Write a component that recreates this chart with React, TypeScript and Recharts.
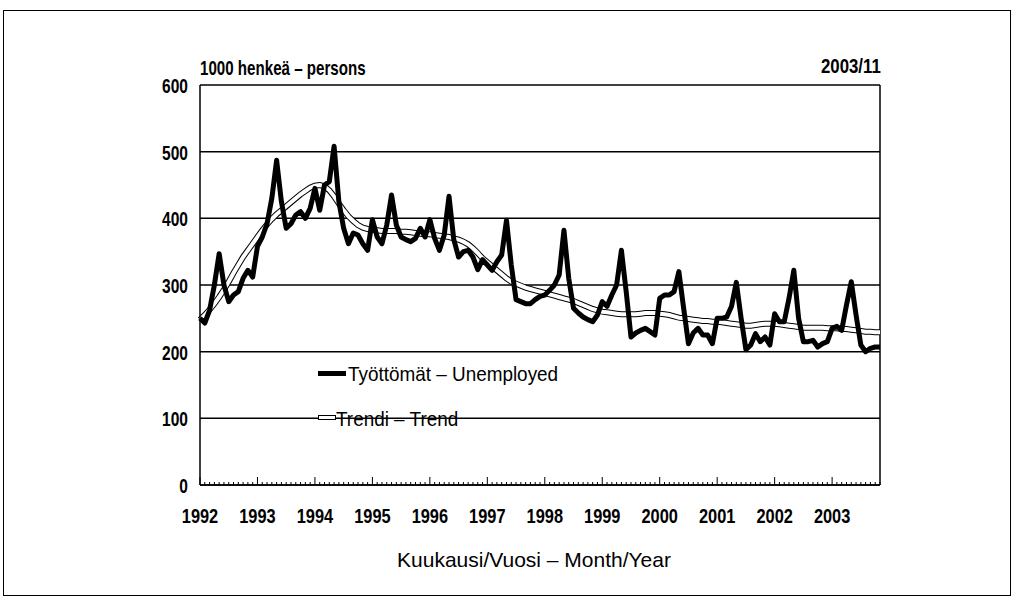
import { CartesianGrid, Line, LineChart, ReferenceLine, XAxis, YAxis } from 'recharts';

const FONT = "'Liberation Sans', Arial, Helvetica, sans-serif";

const YEARS = [1992, 1993, 1994, 1995, 1996, 1997, 1998, 1999, 2000, 2001, 2002, 2003];
const Y_TICKS = [0, 100, 200, 300, 400, 500, 600];

// Työttömät – Unemployed, 1000 persons, monthly
const unemployed1992 = [250, 243, 262, 300, 347, 300, 275, 285, 290, 310, 322, 312];
const unemployed1993 = [358, 372, 392, 430, 487, 425, 385, 392, 405, 410, 400, 415];
const unemployed1994 = [445, 412, 450, 455, 508, 425, 385, 362, 378, 375, 362, 352];
const unemployed1995 = [398, 372, 362, 390, 435, 390, 372, 368, 365, 370, 385, 372];
const unemployed1996 = [398, 370, 352, 375, 433, 368, 342, 350, 352, 342, 323, 338];
const unemployed1997 = [330, 322, 335, 345, 397, 330, 278, 275, 272, 272, 278, 283];
const unemployed1998 = [285, 292, 300, 315, 382, 310, 265, 258, 252, 248, 245, 255];
const unemployed1999 = [275, 268, 285, 300, 352, 290, 222, 228, 232, 235, 230, 225];
const unemployed2000 = [280, 285, 285, 290, 320, 265, 212, 228, 235, 225, 225, 212];
const unemployed2001 = [250, 250, 252, 268, 304, 250, 203, 210, 227, 215, 222, 210];
const unemployed2002 = [257, 245, 245, 280, 322, 250, 215, 215, 217, 207, 212, 215];
const unemployed2003 = [235, 238, 232, 270, 305, 255, 210, 200, 205, 207, 207];

// Trendi – Trend
const trend1992 = [248, 255, 263, 272, 282, 293, 305, 318, 330, 342, 352, 362];
const trend1993 = [372, 382, 391, 399, 406, 412, 418, 424, 430, 436, 441, 446];
const trend1994 = [449, 450, 448, 442, 433, 422, 412, 403, 396, 390, 386, 384];
const trend1995 = [383, 382, 381, 381, 381, 381, 380, 380, 379, 378, 377, 376];
const trend1996 = [376, 375, 374, 373, 372, 370, 368, 365, 361, 355, 348, 340];
const trend1997 = [334, 328, 322, 316, 310, 305, 302, 299, 296, 294, 292, 290];
const trend1998 = [288, 286, 284, 282, 280, 278, 276, 273, 270, 267, 264, 262];
const trend1999 = [260, 259, 258, 257, 256, 256, 256, 256, 257, 258, 258, 258];
const trend2000 = [257, 256, 255, 253, 251, 250, 249, 248, 247, 246, 246, 245];
const trend2001 = [245, 244, 243, 242, 241, 240, 239, 239, 240, 241, 242, 242];
const trend2002 = [242, 241, 240, 239, 238, 237, 236, 236, 236, 236, 236, 235];
const trend2003 = [235, 235, 234, 234, 233, 232, 231, 230, 230, 229, 229];

const unemployed = [
  unemployed1992, unemployed1993, unemployed1994, unemployed1995, unemployed1996, unemployed1997,
  unemployed1998, unemployed1999, unemployed2000, unemployed2001, unemployed2002, unemployed2003,
].flat();
const trend = [
  trend1992, trend1993, trend1994, trend1995, trend1996, trend1997,
  trend1998, trend1999, trend2000, trend2001, trend2002, trend2003,
].flat();

const chartData = unemployed.map((value, i) => ({
  month: i,
  unemployed: value,
  trend: trend[i],
  trendInner: trend[i],
}));
const monthTicks = chartData.map((d) => d.month);
const lastMonth = monthTicks[monthTicks.length - 1];

// condensed look: the available fonts are squeezed horizontally
const MonthTick = ({ x, y, payload }: any) => {
  const isJan = payload.value % 12 === 0;
  return (
    <g>
      <line x1={x} x2={x} y1={y} y2={y - (isJan ? 8 : 3)} stroke="#000" strokeWidth={1} />
      {isJan && (
        <text
          transform={`translate(${x},${y + 38}) scale(0.78,1)`}
          textAnchor="middle"
          fill="#000"
          fontSize={21}
          fontWeight={700}
          fontFamily={FONT}
        >
          {YEARS[payload.value / 12]}
        </text>
      )}
    </g>
  );
};

const ValueTick = ({ x, y, payload }: any) => (
  <text
    transform={`translate(${x},${y}) scale(0.74,1)`}
    textAnchor="end"
    dy="0.38em"
    fill="#000"
    fontSize={21}
    fontWeight={700}
    fontFamily={FONT}
  >
    {payload.value}
  </text>
);

const textStyle = {
  position: 'absolute' as const,
  fontFamily: FONT,
  color: '#000',
  whiteSpace: 'nowrap' as const,
  lineHeight: 1,
};

export default function App() {
  return (
    <div style={{ position: 'absolute', left: 0, top: 0, width: 1013, height: 598, background: '#fff', fontFamily: FONT }}>
      <div style={{ position: 'absolute', left: 3, top: 10, width: 1006, height: 584, border: '1px solid #000' }} />
      <LineChart
        width={1013}
        height={598}
        data={chartData}
        margin={{ top: 85, right: 133, bottom: 73, left: 140 }}
      >
        <CartesianGrid vertical={false} stroke="#000" strokeWidth={1.5} />
        <XAxis
          dataKey="month"
          type="number"
          domain={[0, lastMonth]}
          ticks={monthTicks}
          interval={0}
          height={40}
          tickSize={0}
          tickMargin={0}
          tickLine={false}
          tick={<MonthTick />}
          axisLine={{ stroke: '#000', strokeWidth: 1.5 }}
        />
        <YAxis
          domain={[0, 600]}
          ticks={Y_TICKS}
          width={60}
          tickSize={0}
          tickMargin={12}
          tickLine={false}
          axisLine={{ stroke: '#000', strokeWidth: 1.5 }}
          tick={<ValueTick />}
        />
        <ReferenceLine x={lastMonth} stroke="#000" strokeWidth={1.5} />
        <Line dataKey="trend" stroke="#000" strokeWidth={6} dot={false} isAnimationActive={false} />
        <Line dataKey="trendInner" stroke="#fff" strokeWidth={4} dot={false} isAnimationActive={false} />
        <Line
          dataKey="unemployed"
          stroke="#000"
          strokeWidth={5}
          strokeLinejoin="round"
          dot={false}
          isAnimationActive={false}
        />
      </LineChart>

      <div style={{ ...textStyle, left: 200, top: 57, fontSize: 21, fontWeight: 700, transform: 'scaleX(0.72)', transformOrigin: 'left' }}>
        1000 henkeä – persons
      </div>
      <div style={{ ...textStyle, right: 1013 - 881, top: 55, fontSize: 21, fontWeight: 700, transform: 'scaleX(0.8)', transformOrigin: 'right' }}>
        2003/11
      </div>
      <div style={{ ...textStyle, left: 0, width: 1068, textAlign: 'center', top: 549, fontSize: 21 }}>
        Kuukausi/Vuosi – Month/Year
      </div>

      <div style={{ position: 'absolute', left: 318, top: 371, width: 28, height: 5, background: '#000' }} />
      <div style={{ ...textStyle, left: 348, top: 363, fontSize: 21, transform: 'scaleX(0.9)', transformOrigin: 'left' }}>
        Työttömät – Unemployed
      </div>
      <div style={{ position: 'absolute', left: 318, top: 415, width: 16, height: 3, background: '#fff', border: '1px solid #000' }} />
      <div style={{ ...textStyle, left: 336, top: 408, fontSize: 21, transform: 'scaleX(0.9)', transformOrigin: 'left' }}>
        Trendi – Trend
      </div>
    </div>
  );
}
